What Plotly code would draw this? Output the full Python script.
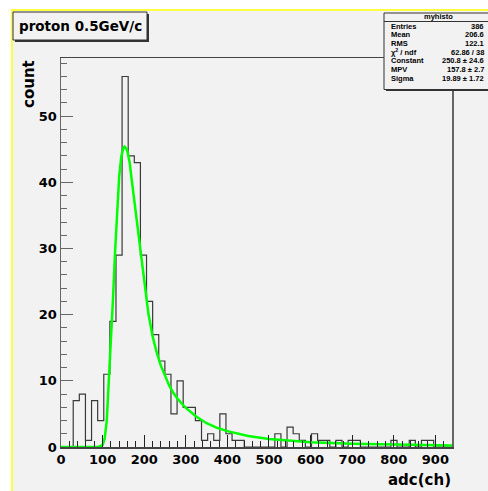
import plotly.graph_objects as go

# ---------------- data ----------------
x_min, x_max, n_bins = 0.0, 940.0, 64
counts = [0, 0, 7, 8, 1, 7, 4, 11, 19, 29, 56, 44, 43, 29, 22, 17,
          13, 11, 5, 10, 6, 6, 4, 1, 2, 1, 5, 2, 1, 1, 0, 0,
          0, 0, 0, 2, 0, 3, 2, 1, 0, 2, 1, 1, 0, 1, 0, 1,
          1, 0, 0, 0, 0, 0, 1, 0, 0, 1, 0, 1, 1, 0, 0, 0]

fit_x = [0, 90, 100, 105, 110, 115, 120, 125, 130, 135, 140, 145, 150, 153, 157,
         160, 165, 170, 180, 190, 200, 210, 220, 230, 240, 250, 260, 270, 280,
         300, 325, 350, 375, 400, 450, 500, 550, 600, 700, 800, 940]
fit_y = [0, 0, 0.3, 1.3, 4.0, 9.5, 15.6, 22.4, 29.5, 36.0, 41.0, 43.9, 45.2, 45.4, 45.1,
         44.6, 43.0, 40.4, 35.3, 30.0, 24.8, 20.2, 16.8, 14.3, 12.3, 10.7, 9.3, 8.2, 7.3,
         5.9, 4.6, 3.6, 2.9, 2.4, 1.65, 1.2, 0.92, 0.73, 0.5, 0.36, 0.23]

title_text = "proton 0.5GeV/c"
stats_name = "myhisto"
stats_labels = ["Entries", "Mean", "RMS", "χ<sup>2</sup> / ndf", "Constant", "MPV", "Sigma"]
stats_values = ["386", "206.6", "122.1", "62.86 / 38", "250.8 ± 24.6", "157.8 ± 2.7", "19.89 ± 1.72"]
x_title = "adc(ch)"
y_title = "count"

# ---------------- geometry helpers (screen pixels) ----------------
W, H = 488, 491
L, R, T, B = 61, 452, 58, 447          # plot frame in screen pixels
def px_x(x):
    return (x - L) / (R - L)
def px_y(y):
    return (B - y) / (B - T)

bw = (x_max - x_min) / n_bins
edges = [x_min + i * bw for i in range(n_bins + 1)]
step_x = edges[:-1] + [edges[-1]]
step_y = counts + [counts[-1]]
ymax = max(counts) * 1.05

BG = "#f2f2f2"
fig = go.Figure()
fig.add_trace(go.Scatter(x=step_x, y=step_y, mode="lines", line_shape="hv",
                         line=dict(color="#3a3a3a", width=1.2), hoverinfo="skip"))
fig.add_trace(go.Scatter(x=fit_x, y=fit_y, mode="lines",
                         line=dict(color="#00ff00", width=2.5), hoverinfo="skip"))

tickfont = dict(family="DejaVu Sans", size=13, color="black", weight="bold")
fig.update_layout(
    width=W, height=H, showlegend=False,
    margin=dict(l=L, r=W - R, t=T, b=H - B, pad=0),
    paper_bgcolor=BG, plot_bgcolor=BG,
    xaxis=dict(range=[x_min, x_max], dtick=100, tick0=0, ticks="inside", ticklen=12,
               tickcolor="#222", tickwidth=1, showgrid=False, zeroline=False,
               showline=True, linecolor="#444", linewidth=1.5, mirror=True,
               tickfont=tickfont,
               minor=dict(dtick=20, ticks="inside", ticklen=6, tickcolor="#222", showgrid=False)),
    yaxis=dict(range=[0, ymax], dtick=10, tick0=0, ticks="inside", ticklen=12,
               tickcolor="#666", tickwidth=1, showgrid=False, zeroline=False,
               showline=True, linecolor="#666", linewidth=1.5, mirror=True,
               tickfont=tickfont,
               minor=dict(dtick=2, ticks="inside", ticklen=6, tickcolor="#666", showgrid=False)),
)

shapes = []
# white page outside the canvas, and the yellow canvas border
shapes.append(dict(type="rect", xref="paper", yref="paper", layer="below",
                   x0=px_x(-50), x1=px_x(600), y0=px_y(10.5), y1=px_y(-50),
                   fillcolor="white", line=dict(width=0)))
shapes.append(dict(type="rect", xref="paper", yref="paper", layer="below",
                   x0=px_x(-50), x1=px_x(11.5), y0=px_y(600), y1=px_y(-50),
                   fillcolor="white", line=dict(width=0)))
shapes.append(dict(type="rect", xref="paper", yref="paper", layer="below",
                   x0=px_x(12), x1=px_x(600), y0=px_y(600), y1=px_y(10),
                   fillcolor="rgba(0,0,0,0)", line=dict(color="#ffff00", width=1.5)))
# title box with shadow
shapes.append(dict(type="rect", xref="paper", yref="paper",
                   x0=px_x(15), x1=px_x(149), y0=px_y(42), y1=px_y(14),
                   fillcolor="#333", line=dict(width=0)))
shapes.append(dict(type="rect", xref="paper", yref="paper",
                   x0=px_x(13), x1=px_x(147), y0=px_y(40), y1=px_y(12),
                   fillcolor=BG, line=dict(color="#333", width=1)))
# stats box with shadow
shapes.append(dict(type="rect", xref="paper", yref="paper",
                   x0=px_x(386), x1=px_x(520), y0=px_y(91), y1=px_y(15),
                   fillcolor="#333", line=dict(width=0)))
shapes.append(dict(type="rect", xref="paper", yref="paper",
                   x0=px_x(384), x1=px_x(518), y0=px_y(89.5), y1=px_y(13),
                   fillcolor=BG, line=dict(color="#333", width=1)))
shapes.append(dict(type="line", xref="paper", yref="paper",
                   x0=px_x(384), x1=px_x(518), y0=px_y(21.5), y1=px_y(21.5),
                   line=dict(color="#333", width=1)))
fig.update_layout(shapes=shapes)

ann = []
ann.append(dict(text=title_text, xref="paper", yref="paper", x=px_x(80), y=px_y(26),
                xanchor="center", yanchor="middle", showarrow=False,
                font=dict(family="DejaVu Sans", size=13.5, color="black", weight="bold")))
ann.append(dict(text=y_title, xref="paper", yref="paper", x=px_x(29), y=px_y(58),
                xanchor="center", yanchor="top", textangle=-90, showarrow=False,
                font=dict(family="DejaVu Sans", size=15, color="black", weight="bold")))
ann.append(dict(text=x_title, xref="paper", yref="paper", x=px_x(453), y=px_y(480),
                xanchor="right", yanchor="middle", showarrow=False,
                font=dict(family="DejaVu Sans", size=15, color="black", weight="bold")))
sfont = dict(family="Liberation Sans", size=7.5, color="black", weight="bold")
ann.append(dict(text=stats_name, xref="paper", yref="paper", x=px_x(438), y=px_y(17),
                xanchor="center", yanchor="middle", showarrow=False, font=sfont))
for i, (lab, val) in enumerate(zip(stats_labels, stats_values)):
    yy = 26 + i * 8.75
    ann.append(dict(text=lab, xref="paper", yref="paper", x=px_x(389), y=px_y(yy),
                    xanchor="left", yanchor="middle", showarrow=False, font=sfont))
    ann.append(dict(text=val, xref="paper", yref="paper", x=px_x(486), y=px_y(yy),
                    xanchor="right", yanchor="middle", showarrow=False, font=sfont))
fig.update_layout(annotations=ann)

fig.write_html("out.html", config={"displayModeBar": False, "staticPlot": True},
               post_script="document.body.style.margin='0';document.body.style.overflow='hidden';")
